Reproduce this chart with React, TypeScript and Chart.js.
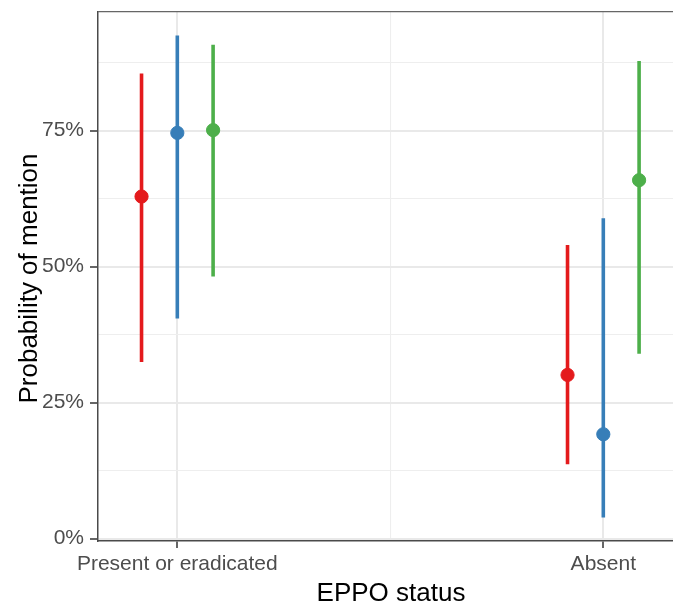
import React, { useEffect, useRef } from "react";
import { Chart, registerables } from "chart.js";

Chart.register(...registerables);

// ---- data ----
const categories = ["Present or eradicated", "Absent"];
const seriesNames = ["Group 1", "Group 2", "Group 3"];
const seriesColors = ["#E41A1C", "#377EB8", "#4DAF4A"];

const redEstimate = [0.629, 0.301];
const redLower = [0.325, 0.137];
const redUpper = [0.855, 0.54];

const blueEstimate = [0.746, 0.192];
const blueLower = [0.405, 0.039];
const blueUpper = [0.925, 0.589];

const greenEstimate = [0.751, 0.659];
const greenLower = [0.482, 0.34];
const greenUpper = [0.908, 0.878];

const yMajorTicks = [0, 0.25, 0.5, 0.75];
const yMinorTicks = [0.125, 0.375, 0.625, 0.875];

const xTitle = "EPPO status";
const yTitle = "Probability of mention";

// ---- layout / style constants ----
const DODGE = 0.084;
const FONT = '"Liberation Sans", Arial, Helvetica, sans-serif';
const MAJOR_GRID = "#e9e9e9";
const MINOR_GRID = "#eeeeee";
const AXIS_DARK = "#4a4a4a";

const series = [
  { name: seriesNames[0], color: seriesColors[0], est: redEstimate, lo: redLower, hi: redUpper },
  { name: seriesNames[1], color: seriesColors[1], est: blueEstimate, lo: blueLower, hi: blueUpper },
  { name: seriesNames[2], color: seriesColors[2], est: greenEstimate, lo: greenLower, hi: greenUpper },
];

const isMajorY = (v: number) => yMajorTicks.some((t) => Math.abs(t - v) < 1e-9);
const isMajorX = (v: number) => Math.abs(v - Math.round(v)) < 1e-9;

const zeroPadding = (scale: any) => {
  scale.paddingTop = 0;
  scale.paddingBottom = 0;
  scale.paddingLeft = 0;
  scale.paddingRight = 0;
};

export default function App() {
  const canvasRef = useRef<HTMLCanvasElement | null>(null);

  useEffect(() => {
    const canvas = canvasRef.current;
    if (!canvas) return;

    const datasets: any[] = [];
    series.forEach((s, i) => {
      const off = (i - 1) * DODGE;
      const seg: any[] = [];
      categories.forEach((_, j) => {
        const x = j + 1 + off;
        seg.push({ x, y: s.lo[j] }, { x, y: s.hi[j] }, { x, y: null });
      });
      datasets.push({
        label: s.name + " interval",
        data: seg,
        showLine: true,
        spanGaps: false,
        borderColor: s.color,
        backgroundColor: s.color,
        borderWidth: 3.6,
        pointRadius: 0,
        pointHoverRadius: 0,
        order: 2,
      });
      datasets.push({
        label: s.name,
        data: categories.map((_, j) => ({ x: j + 1 + off, y: s.est[j] })),
        backgroundColor: s.color,
        borderColor: s.color,
        borderWidth: 1,
        pointRadius: 6.6,
        order: 1,
      });
    });

    const framePlugin = {
      id: "frameAndTitles",
      afterDraw(chart: any) {
        const { ctx, chartArea } = chart;
        ctx.save();
        // top border of panel
        ctx.strokeStyle = "#666666";
        ctx.lineWidth = 1.3;
        ctx.beginPath();
        ctx.moveTo(chartArea.left, chartArea.top);
        ctx.lineTo(chartArea.right, chartArea.top);
        ctx.stroke();

        ctx.fillStyle = "#000000";
        ctx.font = `26px ${FONT}`;
        ctx.textAlign = "center";
        ctx.textBaseline = "alphabetic";
        ctx.fillText(xTitle, 391, 600.5);

        ctx.translate(37, 278.5);
        ctx.rotate(-Math.PI / 2);
        ctx.fillText(yTitle, 0, 0);
        ctx.restore();
      },
    };

    const chart = new Chart(canvas, {
      type: "scatter",
      data: { datasets },
      plugins: [framePlugin],
      options: {
        animation: false,
        responsive: false,
        devicePixelRatio: 1,
        layout: { autoPadding: false, padding: { top: 11.7, right: 0, bottom: 0, left: 0 } },
        plugins: {
          legend: { display: false },
          tooltip: { enabled: false },
        },
        scales: {
          x: {
            type: "linear",
            min: 0.8138,
            max: 2.1636,
            afterBuildTicks: (scale: any) => {
              scale.ticks = [1, 1.5, 2].map((v) => ({ value: v }));
            },
            afterFit: (scale: any) => {
              scale.height = 63;
              zeroPadding(scale);
            },
            ticks: {
              autoSkip: false,
              maxRotation: 0,
              padding: 4,
              color: "#4d4d4d",
              font: { family: FONT, size: 21 },
              callback: (v: any) => (isMajorX(Number(v)) ? categories[Math.round(Number(v)) - 1] : ""),
            },
            grid: {
              color: (c: any) => (c.tick && isMajorX(c.tick.value) ? MAJOR_GRID : MINOR_GRID),
              lineWidth: (c: any) => (c.tick && isMajorX(c.tick.value) ? 2 : 1.1),
              tickLength: 7,
              tickWidth: 1.5,
              tickColor: (c: any) => (c.tick && isMajorX(c.tick.value) ? "#333333" : "rgba(0,0,0,0)"),
            },
            border: { display: true, color: AXIS_DARK, width: 1.5 },
          },
          y: {
            type: "linear",
            min: -0.00423,
            max: 0.96875,
            afterBuildTicks: (scale: any) => {
              scale.ticks = [...yMajorTicks, ...yMinorTicks]
                .sort((a, b) => a - b)
                .map((v) => ({ value: v }));
            },
            afterFit: (scale: any) => {
              scale.width = 98;
              zeroPadding(scale);
            },
            ticks: {
              autoSkip: false,
              padding: 6,
              color: "#4d4d4d",
              font: { family: FONT, size: 21 },
              callback: (v: any) => (isMajorY(Number(v)) ? `${Math.round(Number(v) * 100)}%` : ""),
            },
            grid: {
              color: (c: any) => (c.tick && isMajorY(c.tick.value) ? MAJOR_GRID : MINOR_GRID),
              lineWidth: (c: any) => (c.tick && isMajorY(c.tick.value) ? 2 : 1.1),
              tickLength: 8,
              tickWidth: 1.5,
              tickColor: (c: any) => (c.tick && isMajorY(c.tick.value) ? "#333333" : "rgba(0,0,0,0)"),
            },
            border: { display: true, color: AXIS_DARK, width: 1.5 },
          },
        },
      },
    } as any);

    return () => chart.destroy();
  }, []);

  return (
    <div style={{ position: "absolute", left: 0, top: 0, width: 673, height: 604, background: "#ffffff" }}>
      <canvas ref={canvasRef} width={673} height={604} style={{ display: "block" }} />
    </div>
  );
}
